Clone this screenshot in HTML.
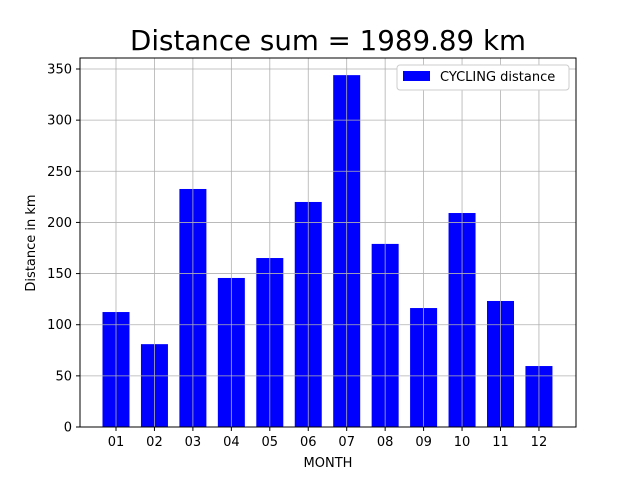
<!DOCTYPE html>
<html><head><meta charset="utf-8"><style>body{margin:0;background:#fff}svg{display:block;font-family:"DejaVu Sans","Liberation Sans",sans-serif}</style></head>
<body>
<svg id="chart" width="640" height="480">
<text x="328" y="50" font-size="27.7" text-anchor="middle">Distance sum = 1989.89 km</text>
<g id="bars"></g><g id="grid"></g><g id="ticks"></g>
<rect x="80" y="58" width="496" height="369" fill="none" stroke="#000" stroke-width="1"/>
<text x="328" y="467" font-size="13" text-anchor="middle">MONTH</text>
<text transform="translate(35,243) rotate(-90)" font-size="13" text-anchor="middle">Distance in km</text>
<g>
<rect x="397" y="65" width="172" height="25" fill="#fff" stroke="#ccc" rx="3"/>
<rect x="403" y="71" width="27" height="10" fill="#0000ff"/>
<text x="440" y="81" font-size="13">CYCLING distance</text>
</g>
</svg>
<script>
const categories=["01","02","03","04","05","06","07","08","09","10","11","12"];
const values=[112.4,81,232.7,145.7,165.2,220,344,179,116.3,209.2,123.2,59.6];
const yTicks=[0,50,100,150,200,250,300,350];
const NS="http://www.w3.org/2000/svg";
const y=v=>427-v*(358/350);
const x=i=>116+i*38.45;
const bw=27;
const grid=document.getElementById('grid'),bars=document.getElementById('bars'),ticks=document.getElementById('ticks');
function mk(tag,attrs,parent){const e=document.createElementNS(NS,tag);for(const k in attrs)e.setAttribute(k,attrs[k]);parent.appendChild(e);return e;}
yTicks.forEach(t=>{
  const g=mk('line',{x1:80,x2:576,y1:y(t),y2:y(t),stroke:'#b0b0b0','stroke-width':0.8},grid);
  
  
  mk('line',{x1:76,x2:80,y1:y(t),y2:y(t),stroke:'#000'},ticks);
  const tx=mk('text',{x:72,y:y(t)+4.5,'font-size':13,'text-anchor':'end'},ticks);
  tx.textContent=t;
  
  
});
categories.forEach((c,i)=>{
  const g=mk('line',{x1:x(i),x2:x(i),y1:58,y2:427,stroke:'#b0b0b0','stroke-width':0.8},grid);
  
  
  const b=mk('rect',{x:x(i)-bw/2,y:y(values[i]),width:bw,height:427-y(values[i]),fill:'#0000ff'},bars);
  
  
  mk('line',{x1:x(i),x2:x(i),y1:427,y2:431,stroke:'#000'},ticks);
  const tx=mk('text',{x:x(i),y:446,'font-size':13,'text-anchor':'middle'},ticks);
  tx.textContent=c;
  
  
});
</script>
</body></html>
